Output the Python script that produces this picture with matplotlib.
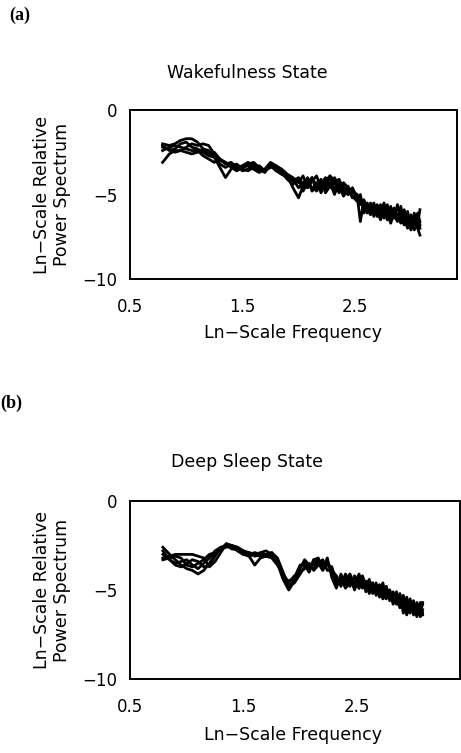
import matplotlib
matplotlib.use("Agg")
import matplotlib.pyplot as plt

# ln-scale frequency grid shared by all traces
ln_freq = [0.79, 0.85, 0.90, 0.95, 1.00, 1.05, 1.10, 1.15, 1.20, 1.25, 1.30, 1.35,
           1.40, 1.45, 1.50, 1.55, 1.60, 1.65, 1.70, 1.75, 1.80, 1.85, 1.90, 1.95,
           2.00, 2.04, 2.08, 2.12, 2.16, 2.20, 2.24, 2.28, 2.32, 2.36, 2.40, 2.44,
           2.48, 2.52, 2.55, 2.58, 2.61, 2.64, 2.67, 2.70, 2.73, 2.76, 2.79, 2.82,
           2.85, 2.88, 2.91, 2.94, 2.97, 3.00, 3.03, 3.06, 3.08]

# (a) wakefulness: ln relative power, one list per subject
wake_1 = [-3.1, -2.6, -2.4, -2.4, -2.5, -2.6, -2.5, -2.3, -2.4, -2.8, -3.4, -4.0,
          -3.5, -3.3, -3.6, -3.5, -3.2, -3.5, -3.7, -3.2, -3.4, -3.6, -3.9, -4.6,
          -5.2, -4.5, -4.0, -4.7, -4.3, -4.9, -4.2, -3.9, -4.7, -4.4, -5.0, -4.5,
          -5.1, -5.4, -5.0, -6.1, -5.5, -5.9, -5.5, -6.2, -5.6, -6.4, -5.7, -6.3,
          -5.8, -6.5, -5.7, -6.7, -6.0, -6.9, -6.1, -7.0, -7.4]
wake_2 = [-2.0, -2.1, -2.0, -1.8, -1.7, -1.7, -1.9, -2.3, -2.6, -2.5, -2.9, -3.2,
          -3.1, -3.4, -3.3, -3.1, -3.3, -3.6, -3.5, -3.1, -3.3, -3.5, -3.8, -4.0,
          -4.3, -3.9, -4.6, -4.0, -4.5, -4.1, -4.7, -3.9, -4.2, -4.9, -4.3, -4.6,
          -4.8, -5.0, -5.3, -5.5, -6.0, -5.5, -6.1, -5.6, -6.2, -5.5, -6.3, -5.7,
          -6.4, -5.6, -6.5, -5.9, -6.7, -6.2, -6.8, -6.1, -6.6]
wake_3 = [-2.2, -2.3, -2.5, -2.4, -2.2, -2.0, -2.1, -2.0, -2.1, -2.6, -3.0, -3.1,
          -3.4, -3.6, -3.4, -3.2, -3.1, -3.4, -3.6, -3.3, -3.5, -3.8, -4.0, -4.1,
          -4.6, -4.3, -4.1, -4.8, -4.6, -4.2, -4.9, -4.5, -4.0, -4.5, -5.1, -4.7,
          -5.2, -5.0, -6.6, -5.4, -5.7, -6.1, -5.8, -6.3, -5.9, -6.0, -6.5, -5.8,
          -6.2, -6.6, -6.0, -6.4, -7.0, -6.5, -6.8, -6.5, -7.0]
wake_4 = [-2.4, -2.2, -2.1, -2.2, -2.3, -2.4, -2.4, -2.7, -2.9, -3.1, -2.9, -3.1,
          -3.3, -3.2, -3.5, -3.6, -3.4, -3.3, -3.6, -3.4, -3.3, -3.7, -4.1, -4.4,
          -4.1, -4.8, -4.3, -4.0, -4.8, -4.4, -4.0, -4.6, -4.3, -4.1, -4.7, -5.0,
          -4.7, -5.3, -5.4, -5.8, -6.1, -5.6, -6.3, -5.8, -6.4, -6.1, -5.6, -6.5,
          -6.0, -6.2, -6.7, -6.1, -6.4, -7.1, -6.6, -6.4, -6.8]
wake_5 = [-2.1, -2.4, -2.3, -2.0, -1.9, -2.2, -2.3, -2.5, -2.7, -2.8, -3.2, -3.4,
          -3.2, -3.5, -3.4, -3.3, -3.5, -3.7, -3.5, -3.3, -3.6, -3.8, -3.9, -4.2,
          -4.0, -4.4, -4.6, -4.2, -3.9, -4.6, -4.4, -4.3, -5.0, -4.3, -4.5, -5.0,
          -4.6, -5.2, -5.6, -5.3, -5.8, -6.2, -5.6, -6.0, -6.5, -5.8, -6.1, -6.7,
          -6.1, -5.8, -6.3, -6.8, -6.2, -6.6, -7.1, -6.7, -5.9]

# (b) deep sleep
sleep_1 = [-2.6, -3.0, -3.3, -3.6, -3.8, -3.9, -4.1, -3.9, -3.5, -3.0, -2.7, -2.4,
           -2.5, -2.6, -2.8, -2.9, -3.0, -2.9, -2.8, -3.0, -3.5, -4.4, -5.0, -4.5,
           -3.7, -3.4, -3.9, -3.3, -3.2, -3.8, -3.2, -4.3, -4.9, -4.1, -4.7, -4.2,
           -5.0, -4.3, -4.9, -4.5, -5.1, -4.6, -5.3, -4.7, -5.4, -4.8, -5.6, -5.1,
           -5.7, -5.2, -6.3, -5.4, -6.1, -5.6, -6.4, -5.7, -6.3]
sleep_2 = [-3.2, -3.1, -3.0, -3.0, -3.0, -3.0, -3.1, -3.2, -3.7, -3.4, -2.9, -2.4,
           -2.6, -2.8, -3.0, -3.1, -3.6, -3.2, -3.1, -3.2, -3.6, -4.1, -4.6, -4.2,
           -4.0, -3.8, -3.6, -3.8, -3.5, -3.3, -3.9, -3.9, -4.2, -4.8, -4.1, -4.8,
           -4.2, -4.9, -4.3, -5.1, -4.5, -5.2, -4.6, -5.3, -4.8, -5.4, -5.0, -5.7,
           -5.1, -5.9, -5.3, -6.1, -5.5, -6.4, -5.7, -6.3, -5.7]
sleep_3 = [-3.0, -3.3, -3.6, -3.7, -3.5, -3.3, -3.4, -3.7, -3.6, -3.1, -2.6, -2.5,
           -2.7, -2.7, -2.8, -3.0, -2.9, -3.0, -3.1, -2.9, -3.2, -4.0, -4.8, -4.6,
           -4.1, -3.7, -3.5, -3.9, -3.6, -3.5, -3.6, -3.7, -4.7, -4.3, -4.9, -4.6,
           -4.3, -4.9, -4.3, -5.0, -4.9, -4.6, -5.2, -5.0, -5.5, -5.3, -5.0, -5.8,
           -5.5, -6.0, -5.5, -6.2, -5.8, -6.3, -5.9, -6.5, -6.1]
sleep_4 = [-2.8, -3.3, -3.5, -3.4, -3.3, -3.6, -3.8, -3.5, -3.2, -2.8, -2.6, -2.6,
           -2.5, -2.8, -3.0, -2.9, -3.1, -3.0, -3.0, -3.1, -3.3, -4.3, -4.5, -4.3,
           -3.6, -3.6, -4.0, -3.3, -3.5, -3.9, -3.4, -4.1, -4.3, -4.6, -4.4, -4.1,
           -4.8, -4.6, -4.2, -4.8, -4.4, -5.1, -4.8, -5.4, -5.0, -4.8, -5.5, -5.2,
           -5.6, -5.6, -5.9, -5.7, -6.3, -5.9, -6.1, -6.2, -5.8]
sleep_5 = [-3.3, -3.2, -3.1, -3.2, -3.6, -3.7, -3.5, -3.3, -3.0, -2.9, -2.8, -2.5,
           -2.6, -2.7, -2.9, -3.1, -3.0, -3.1, -3.0, -2.9, -3.5, -4.2, -4.9, -4.4,
           -3.8, -3.3, -3.6, -3.6, -3.3, -3.6, -3.5, -3.8, -4.4, -4.7, -4.3, -4.5,
           -4.6, -4.1, -4.8, -4.6, -5.2, -4.7, -4.9, -5.1, -4.6, -5.5, -5.1, -5.5,
           -5.8, -5.3, -5.8, -6.4, -5.9, -6.0, -6.5, -5.8, -6.4]

x_ticks = [0.5, 1.5, 2.5]
y_ticks = [0, -5, -10]

W, H = 461, 753
fig = plt.figure(figsize=(W / 100, H / 100), dpi=100)
plt.rcParams['font.family'] = ['DejaVu Sans']

panels = [
    ("(a)", "Wakefulness State", [wake_1, wake_2, wake_3, wake_4, wake_5],
     (130, 110, 457, 279), (9, 15), 73, 333),
    ("(b)", "Deep Sleep State", [sleep_1, sleep_2, sleep_3, sleep_4, sleep_5],
     (130, 501, 460, 679), (0, 403), 462, 735),
]

for tag, title, traces, box, tag_pos, title_y, xlab_y in panels:
    l, t, r, b = box
    ax = fig.add_axes([l / W, 1 - b / H, (r - l) / W, (b - t) / H])
    for tr in traces:
        ax.plot(ln_freq, tr, color="black", lw=2.0)
    ax.set_xlim(0.5, 3.41)
    ax.set_ylim(-10, 0)
    ax.set_xticks(x_ticks)
    ax.set_xticklabels([str(v) for v in x_ticks])
    ax.set_yticks(y_ticks)
    ax.tick_params(length=0, labelsize=12, pad=9)
    ax.tick_params(axis="x", pad=14)
    for s in ax.spines.values():
        s.set_linewidth(1.4)

    fig.text(tag_pos[0] / W, 1 - tag_pos[1] / H, tag, family="Liberation Serif",
             fontweight="bold", fontsize=13, ha="left", va="center")
    fig.text(247 / W, 1 - title_y / H, title, fontsize=12.5, ha="center", va="center")
    fig.text(293 / W, 1 - xlab_y / H, "Ln−Scale Frequency", fontsize=12.5,
             ha="center", va="center")
    fig.text(52 / W, 1 - (t + b) / 2 / H, "Ln−Scale Relative\nPower Spectrum",
             fontsize=12.5, rotation=90, ha="center", va="center", linespacing=1.2)

fig.savefig("out.png", dpi=100)
